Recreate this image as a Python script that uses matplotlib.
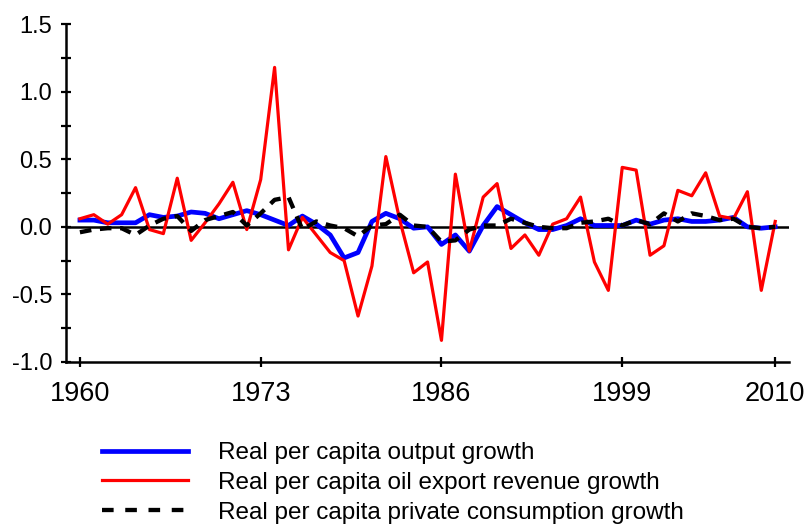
import matplotlib
matplotlib.use('Agg')
import matplotlib.pyplot as plt

plt.rcParams['font.family'] = ['Liberation Sans', 'DejaVu Sans']

years = list(range(1960, 2011))

# real per capita output growth
output_growth = [0.05, 0.05, 0.03, 0.03, 0.03, 0.09, 0.07, 0.08, 0.11, 0.10,
                 0.06, 0.09, 0.12, 0.09, 0.05, 0.01, 0.08, 0.02, -0.06, -0.23,
                 -0.19, 0.04, 0.10, 0.06, -0.01, 0.00, -0.13, -0.06, -0.18, 0.01,
                 0.15, 0.09, 0.03, -0.02, -0.02, 0.01, 0.06, 0.01, 0.01, 0.01,
                 0.05, 0.02, 0.05, 0.06, 0.04, 0.04, 0.05, 0.07, 0.00, -0.01,
                 0.00]

# real per capita oil export revenue growth
oil_growth = [0.06, 0.09, 0.02, 0.09, 0.29, -0.02, -0.05, 0.36, -0.10, 0.03,
              0.17, 0.33, -0.02, 0.35, 1.18, -0.17, 0.07, -0.06, -0.19, -0.25,
              -0.66, -0.29, 0.52, 0.05, -0.34, -0.26, -0.84, 0.39, -0.18, 0.22,
              0.32, -0.16, -0.06, -0.21, 0.02, 0.06, 0.22, -0.26, -0.47, 0.44,
              0.42, -0.21, -0.14, 0.27, 0.23, 0.40, 0.08, 0.06, 0.26, -0.47,
              0.04]

# real per capita private consumption growth
consumption_growth = [-0.04, -0.02, -0.01, -0.01, -0.06, 0.01, 0.06, 0.08, -0.03, 0.05,
                      0.08, 0.11, 0.01, 0.10, 0.20, 0.22, -0.02, 0.04, 0.01, -0.01,
                      -0.07, 0.01, 0.02, 0.09, 0.01, 0.00, -0.11, -0.10, -0.02, 0.01,
                      0.01, 0.06, 0.03, 0.00, -0.01, -0.01, 0.03, 0.04, 0.06, 0.01,
                      0.05, 0.02, 0.10, 0.04, 0.10, 0.08, 0.05, 0.06, 0.00, -0.01,
                      0.00]

labels = ['Real per capita output growth',
          'Real per capita oil export revenue growth',
          'Real per capita private consumption growth']

fig = plt.figure(figsize=(8.11, 5.25), dpi=100)
ax = fig.add_axes([0.0814, 0.3105, 0.8916, 0.6435])

ax.axhline(0, color='black', lw=1.8, zorder=1)
l1, = ax.plot(years, output_growth, color='#0000ff', lw=3.4, zorder=2)
l2, = ax.plot(years, oil_growth, color='#ff0000', lw=2.3, zorder=3)
l3, = ax.plot(years, consumption_growth, color='black', lw=3.1,
              dashes=(2.7, 2.0), zorder=4)

ax.set_xlim(1959, 2011)
ax.set_ylim(-1.0, 1.5)
ax.set_xticks([1960, 1973, 1986, 1999, 2010])
ax.set_yticks([-1.0, -0.5, 0.0, 0.5, 1.0, 1.5])
ax.set_yticklabels(['-1.0', '-0.5', '0.0', '0.5', '1.0', '1.5'])
ax.set_yticks([-0.75, -0.25, 0.25, 0.75, 1.25], minor=True)
ax.tick_params(axis='both', which='both', direction='inout', length=7,
               width=1.6, color='black')
ax.tick_params(axis='y', labelsize=17, pad=6.5)
ax.tick_params(axis='x', labelsize=19.5, pad=10)

for s in ['top', 'right']:
    ax.spines[s].set_visible(False)
for s in ['left', 'bottom']:
    ax.spines[s].set_linewidth(1.8)

leg = fig.legend([l1, l2, l3], labels, loc='upper left',
                 bbox_to_anchor=(0.1254, 0.158), frameon=False, fontsize=17.5,
                 handlelength=3.56, handletextpad=1.23, labelspacing=0.32,
                 borderaxespad=0, borderpad=0)
leg.get_lines()[2].set_dashes((2.7, 2.7))

fig.savefig('out.png', dpi=100)
